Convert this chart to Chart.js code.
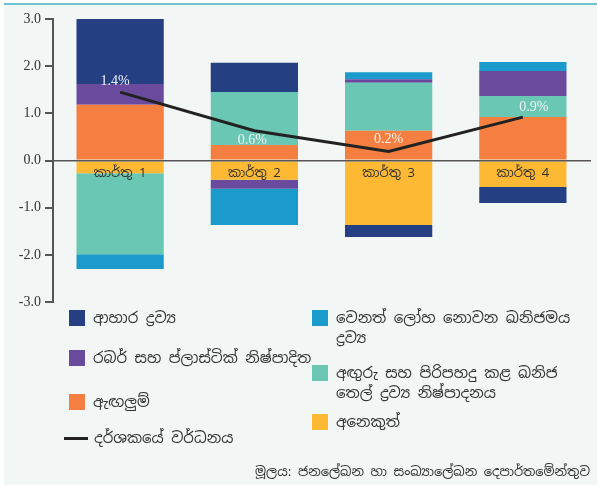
<!DOCTYPE html>
<html>
<head>
<meta charset="utf-8">
<script src="https://cdn.jsdelivr.net/npm/chart.js@4/dist/chart.umd.min.js"></script>
<style>
  html, body { margin: 0; padding: 0; background: #ffffff; }
  body { width: 598px; height: 486px; position: relative; overflow: hidden;
         font-family: "Noto Sans Sinhala", "Iskoola Pota", "Noto Sans", "DejaVu Sans", sans-serif; color: #333; }
  #panel { position: absolute; left: 4px; top: 3px; width: 593px; height: 482px; background: #f2f6f5;
           border-top: 2px solid #6cc4d0; box-sizing: border-box; }
  #wrap { position: absolute; left: 0; top: 0; width: 598px; height: 486px; }
  .leg { position: absolute; font-size: 15px; line-height: 20px; color: #333; white-space: nowrap; }
  .sw { position: absolute; width: 16px; height: 16px; }
  .ln { position: absolute; width: 24px; height: 3px; background: #222; }
  #src { position: absolute; right: 8px; top: 463px; font-size: 13px; color: #333; white-space: nowrap; }
</style>
</head>
<body>
<div id="panel"></div>
<div id="wrap"><canvas id="c" width="598" height="486"></canvas></div>
<div id="legend"></div>
<div id="src">මූලය: ජනලේඛන හා සංඛ්‍යාලේඛන දෙපාර්තමේන්තුව</div>
<script>
// ---- data ----
const categories = ["කාර්තු 1", "කාර්තු 2", "කාර්තු 3", "කාර්තු 4"];
const yTicks = [-3.0, -2.0, -1.0, 0.0, 1.0, 2.0, 3.0];

const otherVals    = [-0.27, -0.41, -1.37, -0.56];   // අනෙකුත්
const apparelVals  = [1.18, 0.33, 0.63, 0.92];       // ඇඟලුම්
const coalVals     = [-1.72, 1.12, 1.02, 0.45];      // අඟුරු සහ පිරිපහදු කළ ඛනිජ තෙල්
const rubberVals   = [0.44, -0.19, 0.07, 0.53];      // රබර් සහ ප්ලාස්ටික්
const mineralVals  = [-0.31, -0.77, 0.15, 0.19];     // වෙනත් ලෝහ නොවන ඛනිජමය
const foodVals     = [1.38, 0.62, -0.25, -0.34];     // ආහාර ද්‍රව්‍ය
const indexGrowth  = [1.45, 0.63, 0.19, 0.92];       // දර්ශකයේ වර්ධනය
const growthLabels = ["1.4%", "0.6%", "0.2%", "0.9%"];

const labelFood    = "ආහාර ද්‍රව්‍ය";
const labelRubber  = "රබර් සහ ප්ලාස්ටික් නිෂ්පාදිත";
const labelApparel = "ඇඟලුම්";
const labelLine    = "දර්ශකයේ වර්ධනය";
const labelMineral = "වෙනත් ලෝහ නොවන ඛනිජමය\nද්‍රව්‍ය";
const labelCoal    = "අඟුරු සහ පිරිපහදු කළ ඛනිජ\nතෙල් ද්‍රව්‍ය නිෂ්පාදනය";
const labelOther   = "අනෙකුත්";

// ---- styles ----
const C = { food: "#243f82", rubber: "#6a4a9c", apparel: "#f47f40", mineral: "#1b9bcc", coal: "#6ac7b3", other: "#fdb933", line: "#222222" };
const serif = '"Liberation Serif", "Times New Roman", "DejaVu Serif", serif';
const sinh = '"Noto Sans Sinhala", "Iskoola Pota", "Noto Serif Sinhala", "Noto Sans", "DejaVu Sans", sans-serif';

const labelOffsets = { dx: [-5, -2, 0, 11], dy: [-11, 10, -12, -10] };

const pointLabels = {
  id: "pointLabels",
  afterDatasetsDraw(chart) {
    const meta = chart.getDatasetMeta(chart.data.datasets.length - 1);
    const ctx = chart.ctx;
    ctx.save();
    ctx.font = "14px " + serif;
    ctx.fillStyle = "#f2f2f2";
    ctx.textAlign = "center";
    ctx.textBaseline = "middle";
    meta.data.forEach((pt, i) => {
      ctx.fillText(growthLabels[i], pt.x + labelOffsets.dx[i], pt.y + labelOffsets.dy[i]);
    });
    ctx.restore();
  }
};

const barDs = (label, data, color) => ({
  type: "bar", label, data, backgroundColor: color, borderWidth: 0, stack: "s", order: 1,
  barPercentage: 0.65, categoryPercentage: 1.0
});

const datasets = [
  barDs(labelOther, otherVals, C.other),
  barDs(labelApparel, apparelVals, C.apparel),
  barDs(labelCoal, coalVals, C.coal),
  barDs(labelRubber, rubberVals, C.rubber),
  barDs(labelMineral, mineralVals, C.mineral),
  barDs(labelFood, foodVals, C.food),
  { type: "line", label: labelLine, data: indexGrowth, borderColor: C.line, borderWidth: 3,
    pointRadius: 0, tension: 0, fill: false, stack: "line", order: 0 }
];

new Chart(document.getElementById("c"), {
  data: { labels: categories, datasets },
  options: {
    responsive: false,
    animation: false,
    layout: { padding: { left: 0, top: 19, right: 8, bottom: 184 } },
    plugins: { legend: { display: false }, tooltip: { enabled: false } },
    scales: {
      x: {
        position: { y: 0 },
        stacked: true,
        offset: true,
        grid: { display: false, drawTicks: false },
        border: { display: true, color: "#555", width: 1.5, z: 1 },
        ticks: { color: "#333", font: { family: sinh, size: 13 }, padding: 5, z: 1 }
      },
      y: {
        stacked: true,
        min: -3, max: 3,
        afterFit(scale) { scale.width = 53; },
        afterBuildTicks(scale) { scale.ticks = yTicks.map(v => ({ value: v })); },
        grid: { drawOnChartArea: false, drawTicks: true, tickLength: 8, color: "#555", lineWidth: 2 },
        border: { display: true, color: "#555", width: 2 },
        ticks: { color: "#333", font: { family: serif, size: 14 }, padding: 4,
                 callback: v => Number(v).toFixed(1) }
      }
    }
  },
  plugins: [pointLabels]
});

// ---- HTML legend ----
const legendItems = [
  { label: labelFood,    color: C.food,    x: 69,  y: 310 },
  { label: labelRubber,  color: C.rubber,  x: 69,  y: 350 },
  { label: labelApparel, color: C.apparel, x: 69,  y: 394 },
  { label: labelLine,    color: C.line,    x: 69,  y: 430, line: true },
  { label: labelMineral, color: C.mineral, x: 312, y: 310 },
  { label: labelCoal,    color: C.coal,    x: 312, y: 365 },
  { label: labelOther,   color: C.other,   x: 312, y: 414 }
];
const lg = document.getElementById("legend");
legendItems.forEach(it => {
  if (it.line) {
    const l = document.createElement("div");
    l.className = "ln"; l.style.left = (it.x - 5) + "px"; l.style.top = (it.y + 7) + "px"; l.style.background = it.color;
    lg.appendChild(l);
  } else {
    const s = document.createElement("div");
    s.className = "sw"; s.style.left = it.x + "px"; s.style.top = it.y + "px"; s.style.background = it.color;
    lg.appendChild(s);
  }
  const t = document.createElement("div");
  t.className = "leg";
  t.style.left = (it.x + (it.line ? 25 : 24)) + "px";
  t.style.top = (it.y - 2) + "px";
  it.label.split("\n").forEach((ln, i) => {
    if (i) t.appendChild(document.createElement("br"));
    t.appendChild(document.createTextNode(ln));
  });
  lg.appendChild(t);
});
</script>
</body>
</html>
